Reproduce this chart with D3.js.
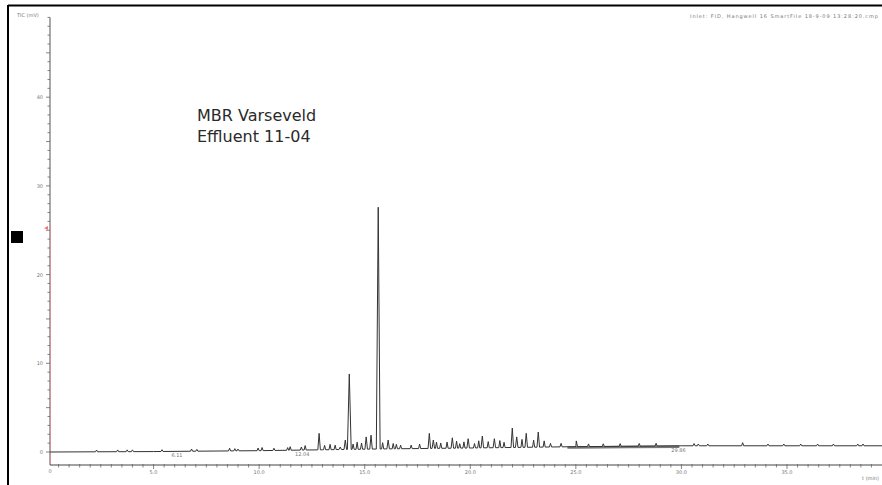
<!DOCTYPE html>
<html>
<head>
<meta charset="utf-8">
<script src="https://cdn.jsdelivr.net/npm/d3@7/dist/d3.min.js"></script>
<style>
  body { margin: 0; background: #fff; }
  svg { display: block; font-family: "DejaVu Sans", Verdana, sans-serif; }
  .tiny { font-size: 5px; fill: #777; }
</style>
</head>
<body>
<svg width="882" height="485"></svg>
<script>
// chromatogram values (time in min, intensity in axis units)
const baseT   = [0.1, 5, 10, 13, 16, 20, 25, 30, 39.5];
const baseV   = [0, 0.05, 0.15, 0.25, 0.35, 0.45, 0.6, 0.7, 0.7];

const peakT   = [12.84, 13.84, 14.08, 14.27, 15.07, 15.30, 15.64, 16.11,
                 18.06, 18.25, 19.15, 19.90, 20.57, 21.14, 21.99, 22.20, 22.65, 23.22, 25.02];
const peakV   = [2.1, 0.56, 1.35, 8.8, 1.7, 1.9, 27.6, 1.35,
                 2.1, 1.35, 1.6, 1.5, 1.8, 1.5, 2.7, 1.7, 2.1, 2.25, 1.25];

// small bumps on the baseline
const bumpT   = [2.3, 3.3, 3.75, 4.0, 5.4, 6.8, 7.05, 8.6, 8.85, 9.0, 9.95, 10.14, 10.7, 11.35, 11.47, 12.0, 12.18,
                 13.1, 13.36, 13.6, 14.45, 14.64, 14.85, 15.85, 16.35, 16.5, 16.7, 17.2, 17.6, 18.4, 18.6,
                 18.9, 19.35, 19.5, 19.7, 20.2, 20.4, 20.85, 21.4, 21.6, 22.45, 23.0, 23.5, 23.8, 24.3,
                 25.6, 26.3, 27.1, 28.0, 28.8,
                 30.6, 30.8, 31.25, 32.9, 34.1, 34.85, 35.65, 36.45, 37.2, 38.35, 38.6];
const bumpH   = [0.2, 0.2, 0.2, 0.2, 0.2, 0.25, 0.2, 0.3, 0.25, 0.2, 0.3, 0.35, 0.25, 0.3, 0.4, 0.35, 0.5,
                 0.5, 0.6, 0.5, 0.6, 0.8, 0.7, 0.7, 0.6, 0.5, 0.4, 0.4, 0.5, 0.7, 0.6,
                 0.7, 0.8, 0.5, 0.7, 0.5, 0.8, 0.7, 0.8, 0.6, 0.9, 0.8, 0.7, 0.4, 0.4,
                 0.3, 0.3, 0.3, 0.3, 0.3,
                 0.25, 0.2, 0.2, 0.35, 0.2, 0.2, 0.2, 0.2, 0.2, 0.2, 0.2];

// thick noisy stretch of the trace after the last peaks
const bandT = [24.6, 25.0, 27.5, 29.9];
const bandV = [0.5, 0.5, 0.55, 0.6];

const rtLabels  = [6.11, 12.04, 29.86];   // retention-time marks under the trace
const xTicks    = [5, 10, 15, 20, 25, 30, 35];
const yTicks    = [10, 20, 30, 40];

const svg = d3.select("svg");

const x = d3.scaleLinear().domain([0, 39.5]).range([48, 882]);
const y = d3.scaleLinear().domain([0, 10]).range([452, 363.3]);

const baseAt = t => {
    // baseline between the read points
    const i = Math.max(1, d3.bisectRight(baseT, t));
    const j = Math.min(i, baseT.length - 1);
    const t0 = baseT[i - 1], t1 = baseT[j];
    const v0 = baseV[i - 1], v1 = baseV[j];
    return t1 === t0 ? v0 : v0 + (v1 - v0) * (t - t0) / (t1 - t0);
};

// frame
svg.append("line").attr("x1", 8).attr("x2", 8).attr("y1", 5).attr("y2", 485)
    .attr("stroke", "#000").attr("stroke-width", 2);
svg.append("line").attr("x1", 8).attr("x2", 882).attr("y1", 5.5).attr("y2", 5.5)
    .attr("stroke", "#000").attr("stroke-width", 2);

// black marker square
svg.append("rect").attr("x", 11).attr("y", 231).attr("width", 12).attr("height", 12).attr("fill", "#000");

// y axis
const yAxisG = svg.append("g");
yAxisG.append("line").attr("x1", 50).attr("x2", 50)
    .attr("y1", y(-1.47)).attr("y2", y(49)).attr("stroke", "#555").attr("stroke-width", 1);
yAxisG.selectAll(".ym").data(d3.range(0, 50)).join("line")
    .attr("x1", d => d % 5 === 0 ? 46 : 47.5).attr("x2", 50)
    .attr("y1", d => y(d)).attr("y2", d => y(d))
    .attr("stroke", "#666").attr("stroke-width", 0.8);
// red dashed overlay on the lower axis
yAxisG.append("line").attr("x1", 50.5).attr("x2", 50.5)
    .attr("y1", 226).attr("y2", y(-1.47))
    .attr("stroke", "#e88").attr("stroke-width", 1).attr("stroke-dasharray", "3,2");
yAxisG.append("path").attr("d", "M44,228 L48,226 L48,230 Z").attr("fill", "#e77");

yAxisG.selectAll(".yl").data(yTicks).join("text")
    .attr("class", "tiny").attr("x", 43).attr("y", d => y(d) + 2)
    .attr("text-anchor", "end").text(d => d);
yAxisG.append("text").attr("class", "tiny").attr("x", 43).attr("y", y(0) + 2)
    .attr("text-anchor", "end").text("0");
yAxisG.append("text").attr("class", "tiny").attr("x", 17).attr("y", 17).text("TIC (mV)");

// x axis
const xAxisG = svg.append("g");
const xAxisY = 465;
xAxisG.append("line").attr("x1", 50).attr("x2", 882).attr("y1", xAxisY).attr("y2", xAxisY)
    .attr("stroke", "#444").attr("stroke-width", 1);
xAxisG.selectAll(".xm").data(d3.range(0, 79).map(i => i * 0.5).filter(d => x(d) >= 50)).join("line")
    .attr("x1", d => x(d)).attr("x2", d => x(d))
    .attr("y1", xAxisY - 1).attr("y2", d => d % 5 === 0 ? xAxisY + 4 : xAxisY + 2.5)
    .attr("stroke", "#666").attr("stroke-width", 0.8);
xAxisG.selectAll(".xl").data(xTicks).join("text")
    .attr("class", "tiny").attr("x", d => x(d)).attr("y", xAxisY + 9)
    .attr("text-anchor", "middle").text(d => d.toFixed(1));
xAxisG.append("text").attr("class", "tiny").attr("x", 50).attr("y", xAxisY + 8)
    .attr("text-anchor", "middle").text("0");
xAxisG.append("text").attr("class", "tiny").attr("x", 879).attr("y", 480)
    .attr("text-anchor", "end").text("t (min)");

// trace: baseline points plus narrow spikes for each peak
const pts = baseT.map((t, i) => [t, baseV[i]]);
peakT.forEach((t, i) => {
    const w = peakV[i] > 5 ? 0.09 : 0.06;
    pts.push([t - w, baseAt(t - w)], [t, peakV[i]], [t + w, baseAt(t + w)]);
});
bumpT.forEach((t, i) => {
    const w = 0.05;
    pts.push([t - w, baseAt(t - w)], [t, baseAt(t) + bumpH[i]], [t + w, baseAt(t + w)]);
});
pts.sort((a, b) => a[0] - b[0]);

const line = d3.line().x(d => x(d[0])).y(d => y(d[1]));

svg.append("path").datum(bandT.map((t, i) => [t, bandV[i]]))
    .attr("d", line).attr("fill", "none").attr("stroke", "#777").attr("stroke-width", 2.5);

svg.append("path").datum(pts)
    .attr("d", line).attr("fill", "none").attr("stroke", "#333").attr("stroke-width", 1)
    .attr("stroke-linejoin", "round");

// retention time labels
svg.selectAll(".rt").data(rtLabels).join("text")
    .attr("class", "tiny").attr("x", d => x(d)).attr("y", d => y(baseAt(d)) + 6)
    .attr("text-anchor", "middle").text(d => d.toFixed(2));

// header text
svg.append("text").attr("class", "tiny").attr("x", 878).attr("y", 18)
    .attr("text-anchor", "end").attr("textLength", 188)
    .text("Inlet: FID, Hangwell 16 SmartFile 18-9-09 13:28:20.cmp");

// title
const title = svg.append("text").attr("font-size", 16).attr("fill", "#2a2a2a");
title.append("tspan").attr("x", 197).attr("y", 121).text("MBR Varseveld");
title.append("tspan").attr("x", 197).attr("y", 142).text("Effluent 11-04");
</script>
</body>
</html>
